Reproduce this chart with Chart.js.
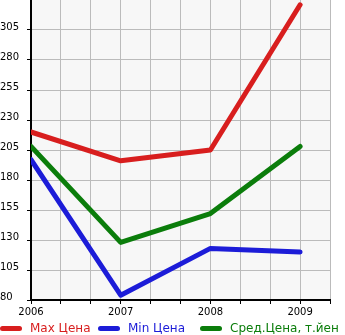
<!DOCTYPE html>
<html>
<head>
<meta charset="utf-8">
<script src="https://cdn.jsdelivr.net/npm/chart.js@4.4.0/dist/chart.umd.min.js"></script>
<style>
    html, body { margin: 0; padding: 0; background: #fff; }
    #wrap { position: relative; width: 345px; height: 335px; overflow: hidden; }
    #chart { position: absolute; left: 0; top: 0; }
    #legend { position: absolute; left: 0; top: 320px; height: 16px; width: 345px; white-space: nowrap; overflow: hidden;
              font-family: "DejaVu Sans", sans-serif; font-size: 12px; line-height: 16px; }
    .lg-item { position: absolute; top: 0; }
    .lg-swatch { position: absolute; top: 6px; left: 0; width: 22px; height: 5px; border-radius: 3px; }
    .lg-text { position: absolute; left: 30px; top: 0; }
</style>
</head>
<body>
<div id="wrap">
    <canvas id="chart" width="345" height="335"></canvas>
    <div id="legend"></div>
</div>
<script>
// Data
var years = [2006, 2007, 2008, 2009];
var maxPrice = [220, 196, 205, 326];
var minPrice = [197, 84, 123, 120];
var avgPrice = [208, 128, 152, 208];

var seriesNames = ["Max Цена", "Min Цена", "Сред.Цена, т.йен"];
var seriesColors = ["#d81e1e", "#1c1cd8", "#0b7d0b"];
var legendLeft = [0, 98, 200];

var yMin = 80, yMax = 330, yStep = 25;

function toPoints(vals) {
    return vals.map(function(v, i) { return { x: years[i], y: v }; });
}

// light plot background
var plotBg = {
    id: "plotBg",
    beforeDraw: function(chart) {
        var a = chart.chartArea, ctx = chart.ctx;
        ctx.save();
        ctx.fillStyle = "#f7f7f7";
        ctx.fillRect(a.left, a.top, a.right - a.left, a.bottom - a.top);
        ctx.restore();
    }
};

var allSeries = [maxPrice, minPrice, avgPrice];
var datasets = allSeries.map(function(vals, i) {
    return {
        label: seriesNames[i],
        data: toPoints(vals),
        borderColor: seriesColors[i],
        backgroundColor: seriesColors[i],
        borderWidth: 5,
        borderCapStyle: "round",
        borderJoinStyle: "round",
        pointRadius: 0,
        tension: 0
    };
});

new Chart(document.getElementById("chart"), {
    type: "line",
    data: { datasets: datasets },
    plugins: [plotBg],
    options: {
        responsive: false,
        animation: false,
        events: [],
        layout: { padding: { top: 0, right: 15, bottom: 0, left: 0 } },
        plugins: { legend: { display: false }, tooltip: { enabled: false } },
        scales: {
            x: {
                type: "linear",
                min: years[0],
                max: years[years.length - 1] + 1 / 3,
                afterBuildTicks: function(scale) {
                    var t = [];
                    for (var i = 0; i <= 10; i++) t.push({ value: years[0] + i / 3 });
                    scale.ticks = t;
                },
                afterFit: function(scale) { scale.height = 35; },
                grid: { color: "#bbbbbb", lineWidth: 1, tickColor: "#000", tickLength: 4 },
                border: { color: "#000", width: 2 },
                ticks: {
                    autoSkip: false,
                    maxRotation: 0,
                    padding: 2,
                    color: "#000",
                    font: { family: "DejaVu Sans", size: 10 },
                    callback: function(v) {
                        var r = Math.round(v);
                        return Math.abs(v - r) < 0.01 ? String(r) : "";
                    }
                }
            },
            y: {
                min: yMin,
                max: yMax,
                afterFit: function(scale) { scale.width = 31; scale.paddingTop = 0; },
                grid: { color: "#bbbbbb", lineWidth: 1, tickColor: "#000", tickLength: 4 },
                border: { color: "#000", width: 2 },
                ticks: {
                    stepSize: yStep,
                    crossAlign: "far",
                    labelOffset: -3,
                    color: "#000",
                    font: { family: "DejaVu Sans", size: 10 },
                    callback: function(v) { return v >= yMax ? null : String(v); }
                }
            }
        }
    }
});

// legend as html text
var lg = document.getElementById("legend");
seriesNames.forEach(function(name, i) {
    var item = document.createElement("div");
    item.className = "lg-item";
    item.style.left = legendLeft[i] + "px";
    item.innerHTML = '<span class="lg-swatch" style="background:' + seriesColors[i] + '"></span>' +
        '<span class="lg-text" style="color:' + seriesColors[i] + '">' + name + '</span>';
    lg.appendChild(item);
});
</script>
</body>
</html>
